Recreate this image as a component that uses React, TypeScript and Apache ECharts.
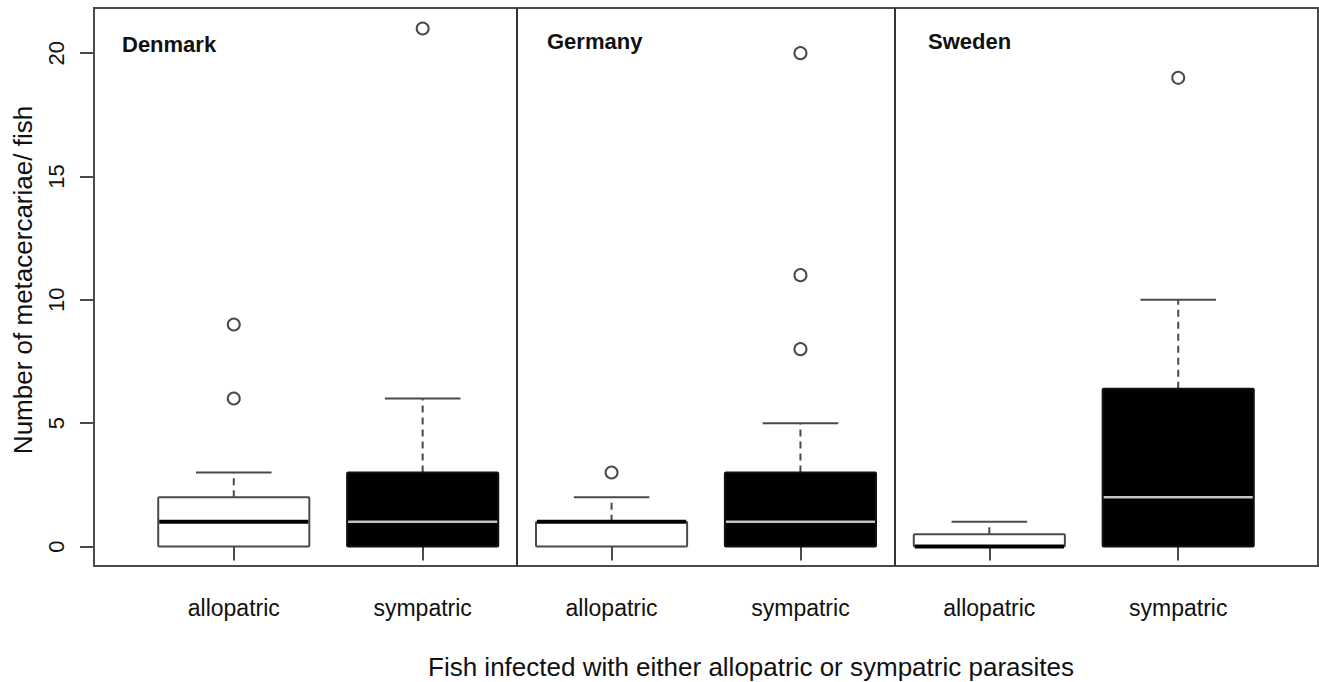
import React, { useEffect, useRef } from "react";
import * as echarts from "echarts";

const countries = ["Denmark", "Germany", "Sweden"];
const categories = ["allopatric", "sympatric", "allopatric", "sympatric", "allopatric", "sympatric"];
const lowerWhisker = [0, 0, 0, 0, 0, 0];
const q1Values = [0, 0, 0, 0, 0, 0];
const medianValues = [1, 1, 1, 1, 0, 2];
const q3Values = [2, 3, 1, 3, 0.5, 6.4];
const upperWhisker = [3, 6, 2, 5, 1, 10];
const outlierValues = [[9, 6], [21], [3], [20, 11, 8], [], [19]];
const yTicks = [0, 5, 10, 15, 20];
const xPositions = [1, 2, 3, 4, 5, 6];
const dividers = [2.5, 4.5];
const xTitle = "Fish infected with either allopatric or sympatric parasites";
const yTitle = "Number of metacercariae/ fish";

const FONT = "'Liberation Sans', Arial, Helvetica, sans-serif";
const LINE = "#4a4a4a";

export default function App() {
  const ref = useRef<HTMLDivElement>(null);
  useEffect(() => {
    document.body.style.margin = "0";
    const chart = echarts.init(ref.current!, null, { renderer: "svg" });
    const boxData = xPositions.map((x, i) => [
      x,
      lowerWhisker[i],
      q1Values[i],
      medianValues[i],
      q3Values[i],
      upperWhisker[i],
      categories[i] === "sympatric" ? 1 : 0,
    ]);
    const outlierData: number[][] = [];
    outlierValues.forEach((arr, i) => arr.forEach((v) => outlierData.push([xPositions[i], v])));

    const renderItem = (params: any, api: any) => {
      const x = api.value(0);
      const lo = api.value(1);
      const q1 = api.value(2);
      const med = api.value(3);
      const q3 = api.value(4);
      const hi = api.value(5);
      const dark = api.value(6) === 1;
      const w = api.size([0.8, 0])[0];
      const pLo = api.coord([x, lo]);
      const pQ1 = api.coord([x, q1]);
      const pMed = api.coord([x, med]);
      const pQ3 = api.coord([x, q3]);
      const pHi = api.coord([x, hi]);
      const cx = pMed[0];
      const children: any[] = [];
      if (hi > q3) {
        children.push({
          type: "line",
          shape: { x1: cx, y1: pQ3[1], x2: cx, y2: pHi[1] },
          style: { stroke: LINE, lineWidth: 2, lineDash: [7, 5] },
        });
      }
      children.push({
        type: "line",
        shape: { x1: cx - w / 4, y1: pHi[1], x2: cx + w / 4, y2: pHi[1] },
        style: { stroke: LINE, lineWidth: 2 },
      });
      if (lo < q1) {
        children.push({
          type: "line",
          shape: { x1: cx, y1: pQ1[1], x2: cx, y2: pLo[1] },
          style: { stroke: LINE, lineWidth: 2, lineDash: [7, 5] },
        });
        children.push({
          type: "line",
          shape: { x1: cx - w / 4, y1: pLo[1], x2: cx + w / 4, y2: pLo[1] },
          style: { stroke: LINE, lineWidth: 2 },
        });
      }
      children.push({
        type: "rect",
        shape: { x: cx - w / 2, y: pQ3[1], width: w, height: pQ1[1] - pQ3[1], r: 1 },
        style: { fill: dark ? "#000" : "#fff", stroke: dark ? "#111" : LINE, lineWidth: 2 },
      });
      children.push({
        type: "line",
        shape: { x1: cx - w / 2 + 1, y1: pMed[1], x2: cx + w / 2 - 1, y2: pMed[1] },
        style: { stroke: dark ? "#c4c4c4" : "#000", lineWidth: dark ? 2.5 : 4 },
      });
      return { type: "group", children };
    };

    chart.setOption({
      animation: false,
      grid: {
        left: 94,
        right: 1,
        top: 8,
        bottom: 116,
        show: true,
        borderColor: LINE,
        borderWidth: 2,
        backgroundColor: "#fff",
        outerBoundsMode: "none",
        containLabel: false,
      },
      xAxis: {
        type: "value",
        min: 0.26,
        max: 6.74,
        splitLine: { show: false },
        axisLine: { show: false },
        axisTick: { show: true, customValues: xPositions, length: 14, lineStyle: { color: LINE, width: 2 } },
        axisLabel: {
          show: true,
          customValues: xPositions,
          formatter: (v: number) => categories[Math.round(v) - 1] ?? "",
          fontFamily: FONT,
          fontSize: 23,
          color: "#111",
          margin: 30,
        },
      },
      yAxis: {
        type: "value",
        min: -0.79,
        max: 21.83,
        splitLine: { show: false },
        axisLine: { show: false },
        axisTick: { show: true, customValues: yTicks, length: 14, lineStyle: { color: LINE, width: 2 } },
        axisLabel: {
          show: true,
          customValues: yTicks,
          rotate: 90,
          fontFamily: FONT,
          fontSize: 22,
          color: "#111",
          margin: 38,
          verticalAlign: "middle",
          align: "center",
        },
      },
      graphic: [
        { type: "text", left: 122, top: 33, style: { text: countries[0], font: `bold 22px ${FONT}`, fill: "#111" } },
        { type: "text", left: 547, top: 30, style: { text: countries[1], font: `bold 22px ${FONT}`, fill: "#111" } },
        { type: "text", left: 928, top: 30, style: { text: countries[2], font: `bold 22px ${FONT}`, fill: "#111" } },
        {
          type: "text",
          x: 751,
          y: 667,
          style: { text: xTitle, font: `26px ${FONT}`, fill: "#111", align: "center", verticalAlign: "middle" },
        },
        {
          type: "text",
          x: 23,
          y: 280,
          rotation: Math.PI / 2,
          style: { text: yTitle, font: `26px ${FONT}`, fill: "#111", align: "center", verticalAlign: "middle" },
        },
      ],
      series: [
        {
          type: "custom",
          renderItem,
          data: boxData,
          encode: { x: 0, y: [1, 2, 3, 4, 5] },
          z: 2,
          markLine: {
            silent: true,
            symbol: "none",
            label: { show: false },
            lineStyle: { color: "#333", width: 2, type: "solid" },
            data: dividers.map((d) => ({ xAxis: d })),
          },
        },
        {
          type: "scatter",
          data: outlierData,
          symbol: "circle",
          symbolSize: 12,
          itemStyle: { color: "#fff", borderColor: LINE, borderWidth: 2, opacity: 1 },
          z: 3,
        },
      ],
    });
    return () => chart.dispose();
  }, []);
  return <div ref={ref} style={{ width: 1319, height: 682 }} />;
}
